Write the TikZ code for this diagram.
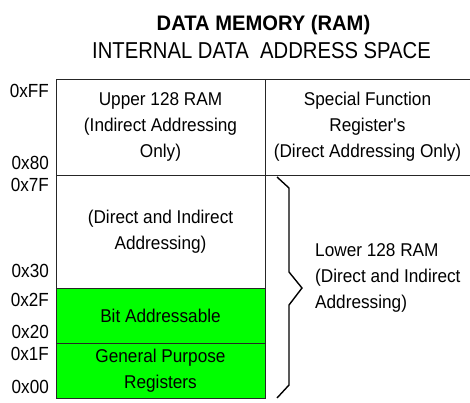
\documentclass[tikz,border=0pt]{standalone}
\usepackage{fontspec}
\setmainfont{Liberation Sans}[FakeStretch=0.93]
\newfontfamily\titlefont{Liberation Sans}[FakeStretch=0.96]
\newfontfamily\subfont{Liberation Sans}[FakeStretch=0.88]
\newfontfamily\addrfont{Liberation Sans}[FakeStretch=0.9]
\usepackage{tikz}
\usetikzlibrary{positioning}
\definecolor{bitgreen}{RGB}{0,255,0}

\begin{document}
\begin{tikzpicture}[x=1pt,y=-1pt,
                memline/.style={draw=black!85, line width=1pt},
                region/.style={rectangle, memline, inner sep=0pt, outer sep=0pt,
                    minimum width=209pt, align=center,
                    font=\fontsize{18.5}{26}\selectfont},
                greenregion/.style={region, fill=bitgreen},
                addr/.style={anchor=east, inner sep=0pt,
                    font=\addrfont\fontsize{19}{22}\selectfont},
                plaintext/.style={inner sep=0pt, font=\fontsize{18.5}{26}\selectfont}]
            \useasboundingbox (0,0) rectangle (470,402);

            % titles
            \node[anchor=base, font=\titlefont\bfseries\fontsize{21}{24}\selectfont] (title) at (263.5,30) {DATA MEMORY (RAM)};
            \node[anchor=base, font=\subfont\fontsize{23}{26}\selectfont] (subtitle) at (261.5,58) {INTERNAL DATA\ \ ADDRESS SPACE};

            % left column
            \node[region, minimum height=96pt] (upper) at (160.5,127) {Upper 128 RAM\\(Indirect Addressing\\Only)};
            \node[region, minimum height=113pt, below=0pt of upper] (direct) {(Direct and Indirect\\Addressing)};
            \node[greenregion, minimum height=55pt, below=0pt of direct] (bitaddr) {Bit Addressable};
            \node[greenregion, minimum height=55pt, below=0pt of bitaddr] (gpr) {General Purpose\\Registers};

            % right column
            \coordinate (rtop) at (470,79);
            \coordinate (rmid) at (470,175);
            \draw[memline] (upper.north east) -- (rtop);
            \draw[memline] (upper.south east) -- (rmid);
            \node[plaintext, align=center] (sfr) at (367.5,127) {Special Function\\Register\textquotesingle s\\(Direct Addressing Only)};

            % brace
            \draw[draw=black, line width=1.4pt, line join=miter] (277,177) -- (289,188) -- (289,272) -- (302,288)
                -- (289,305) -- (289,385) -- (277,398);
            \node[plaintext, anchor=west, align=left] (lower) at (315,278) {Lower 128 RAM\\(Direct and Indirect\\Addressing)};

            % addresses
            \node[addr] (aFF) at (49,91) {0xFF};
            \node[addr] (a80) at (49,163) {0x80};
            \node[addr] (a7F) at (49,185) {0x7F};
            \node[addr] (a30) at (49,271) {0x30};
            \node[addr] (a2F) at (49,300) {0x2F};
            \node[addr] (a20) at (49,332) {0x20};
            \node[addr] (a1F) at (49,354) {0x1F};
            \node[addr] (a00) at (49,387) {0x00};
        \end{tikzpicture}
\end{document}
